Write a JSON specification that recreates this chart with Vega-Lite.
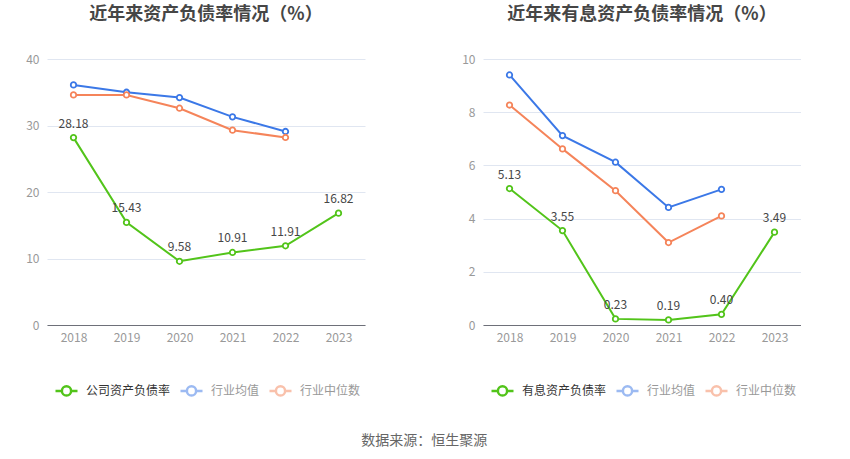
{
  "$schema": "https://vega.github.io/schema/vega-lite/v6.json",
  "background": "white",
  "padding": {"left": 25, "top": 6, "right": 0, "bottom": 0},
  "autosize": {"type": "pad"},
  "datasets": {
    "debt": [
      {"year": "2018", "series": "公司资产负债率", "value": 28.18},
      {"year": "2019", "series": "公司资产负债率", "value": 15.43},
      {"year": "2020", "series": "公司资产负债率", "value": 9.58},
      {"year": "2021", "series": "公司资产负债率", "value": 10.91},
      {"year": "2022", "series": "公司资产负债率", "value": 11.91},
      {"year": "2023", "series": "公司资产负债率", "value": 16.82},
      {"year": "2018", "series": "行业均值", "value": 36.1},
      {"year": "2019", "series": "行业均值", "value": 35.0},
      {"year": "2020", "series": "行业均值", "value": 34.2},
      {"year": "2021", "series": "行业均值", "value": 31.3},
      {"year": "2022", "series": "行业均值", "value": 29.1},
      {"year": "2018", "series": "行业中位数", "value": 34.6},
      {"year": "2019", "series": "行业中位数", "value": 34.6},
      {"year": "2020", "series": "行业中位数", "value": 32.6},
      {"year": "2021", "series": "行业中位数", "value": 29.3},
      {"year": "2022", "series": "行业中位数", "value": 28.2}
    ],
    "interest": [
      {"year": "2018", "series": "有息资产负债率", "value": 5.13},
      {"year": "2019", "series": "有息资产负债率", "value": 3.55},
      {"year": "2020", "series": "有息资产负债率", "value": 0.23},
      {"year": "2021", "series": "有息资产负债率", "value": 0.19},
      {"year": "2022", "series": "有息资产负债率", "value": 0.40},
      {"year": "2023", "series": "有息资产负债率", "value": 3.49},
      {"year": "2018", "series": "行业均值", "value": 9.4},
      {"year": "2019", "series": "行业均值", "value": 7.12},
      {"year": "2020", "series": "行业均值", "value": 6.12},
      {"year": "2021", "series": "行业均值", "value": 4.42},
      {"year": "2022", "series": "行业均值", "value": 5.1},
      {"year": "2018", "series": "行业中位数", "value": 8.27},
      {"year": "2019", "series": "行业中位数", "value": 6.62},
      {"year": "2020", "series": "行业中位数", "value": 5.05},
      {"year": "2021", "series": "行业中位数", "value": 3.1},
      {"year": "2022", "series": "行业中位数", "value": 4.1}
    ]
  },
  "title": {
    "text": "数据来源：恒生聚源",
    "orient": "bottom",
    "anchor": "middle",
    "fontSize": 14,
    "fontWeight": "normal",
    "color": "#666666",
    "offset": 33,
    "dx": 11
  },
  "config": {
    "font": "Noto Sans CJK SC",
    "view": {"stroke": null},
    "title": {"fontSize": 18, "fontWeight": "bold", "color": "#464646", "offset": 29, "anchor": "middle"},
    "axisX": {
      "labelAngle": 0,
      "labelColor": "#999999",
      "labelFontSize": 12,
      "labelPadding": 7,
      "ticks": false,
      "domainColor": "#6E7079",
      "grid": false,
      "title": null
    },
    "axisY": {
      "labelColor": "#999999",
      "labelFontSize": 12,
      "labelPadding": 8,
      "ticks": false,
      "domain": false,
      "gridColor": "#E0E6F1",
      "title": null
    },
    "legend": {
      "orient": "none",
      "legendX": 7,
      "legendY": 319,
      "direction": "horizontal",
      "title": null,
      "symbolType": "M-1,0L-0.42,0M0.42,0L1,0M-0.42,0A0.42,0.42,0,1,1,0.42,0A0.42,0.42,0,1,1,-0.42,0Z",
      "symbolSize": 484,
      "symbolStrokeWidth": 2.5,
      "symbolFillColor": "white",
      "labelFontSize": 12,
      "labelOffset": 7,
      "columnPadding": 4,
      "labelColor": {"expr": "datum.value == '行业均值' || datum.value == '行业中位数' ? '#999999' : '#333333'"},
      "symbolOpacity": {"expr": "datum.value == '行业均值' || datum.value == '行业中位数' ? 0.5 : 1"}
    }
  },
  "bounds": "flush",
  "spacing": 118,
  "resolve": {"scale": {"color": "independent", "y": "independent"}, "legend": {"color": "independent"}},
  "hconcat": [
    {
      "title": "近年来资产负债率情况（%）",
      "width": 318,
      "height": 266,
      "data": {"name": "debt"},
      "layer": [
        {
          "mark": {"type": "line", "strokeWidth": 2, "point": {"filled": false, "fill": "white", "size": 30, "strokeWidth": 1.8}},
          "encoding": {
            "x": {"field": "year", "type": "ordinal"},
            "y": {"field": "value", "type": "quantitative", "scale": {"domain": [0, 40], "nice": false}, "axis": {"values": [0, 10, 20, 30, 40]}},
            "color": {
              "field": "series",
              "type": "nominal",
              "sort": ["公司资产负债率", "行业均值", "行业中位数"],
              "scale": {"domain": ["公司资产负债率", "行业均值", "行业中位数"], "range": ["#52C41A", "#3B78E7", "#F5845A"]}
            }
          }
        },
        {
          "transform": [{"filter": "datum.series == '公司资产负债率'"}],
          "mark": {"type": "text", "fontSize": 12, "color": "#464646", "dy": -14, "baseline": "middle"},
          "encoding": {
            "x": {"field": "year", "type": "ordinal"},
            "y": {"field": "value", "type": "quantitative"},
            "text": {"field": "value", "type": "quantitative", "format": ".2f"}
          }
        }
      ]
    },
    {
      "title": "近年来有息资产负债率情况（%）",
      "width": 318,
      "height": 266,
      "data": {"name": "interest"},
      "layer": [
        {
          "mark": {"type": "line", "strokeWidth": 2, "point": {"filled": false, "fill": "white", "size": 30, "strokeWidth": 1.8}},
          "encoding": {
            "x": {"field": "year", "type": "ordinal"},
            "y": {"field": "value", "type": "quantitative", "scale": {"domain": [0, 10], "nice": false}, "axis": {"values": [0, 2, 4, 6, 8, 10]}},
            "color": {
              "field": "series",
              "type": "nominal",
              "sort": ["有息资产负债率", "行业均值", "行业中位数"],
              "scale": {"domain": ["有息资产负债率", "行业均值", "行业中位数"], "range": ["#52C41A", "#3B78E7", "#F5845A"]}
            }
          }
        },
        {
          "transform": [{"filter": "datum.series == '有息资产负债率'"}],
          "mark": {"type": "text", "fontSize": 12, "color": "#464646", "dy": -14, "baseline": "middle"},
          "encoding": {
            "x": {"field": "year", "type": "ordinal"},
            "y": {"field": "value", "type": "quantitative"},
            "text": {"field": "value", "type": "quantitative", "format": ".2f"}
          }
        }
      ]
    }
  ]
}
